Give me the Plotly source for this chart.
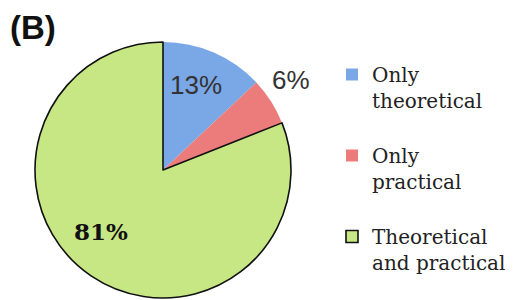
import plotly.graph_objects as go

labels = ["Only<br>theoretical<br> ", "Only<br>practical<br> ", "Theoretical<br>and practical<br> "]
values = [13, 6, 81]
text_labels = ["13%", "6%", "81%"]
colors = ["#7aa7e6", "#ec7b7b", "#c6e784"]

fig = go.Figure(go.Pie(
    labels=labels,
    values=values,
    textinfo="none",
    marker=dict(colors=colors, line=dict(color="#111111", width=[0, 0, 1.6])),
    sort=False,
    direction="clockwise",
    rotation=0,
    domain=dict(x=[27/529, 283/529], y=[10/300, 266/300]),
    showlegend=True,
    hoverinfo="label+percent",
))

# percentage labels (text from data), positioned in paper space
label_pos = [(188, 77), (283, 72), (93, 223)]
label_fonts = [
    dict(family="Liberation Sans", size=26, color="#333333"),
    dict(family="Liberation Sans", size=26, color="#333333"),
    dict(family="DejaVu Serif", size=23, color="#111111", weight="bold"),
]
annotations = []
for t, (px, py), f in zip(text_labels, label_pos, label_fonts):
    annotations.append(dict(
        text=t, x=px/529, y=1-py/300, xref="paper", yref="paper",
        xanchor="center", yanchor="middle", showarrow=False, font=f,
    ))
annotations.append(dict(
    text="<b>(B)</b>", x=25/529, y=1-20/300, xref="paper", yref="paper",
    xanchor="center", yanchor="middle", showarrow=False,
    font=dict(family="Liberation Sans", size=33, color="#111111"),
))

fig.update_layout(
    width=529, height=300,
    margin=dict(l=0, r=0, t=0, b=0),
    paper_bgcolor="white",
    plot_bgcolor="white",
    legend=dict(
        x=324/529, y=1-52/300, xanchor="left", yanchor="top",
        font=dict(family="DejaVu Serif", size=20, color="#222222"),
        valign="top",
        itemwidth=30,
    ),
    annotations=annotations,
)

fig.write_html("out.html")
